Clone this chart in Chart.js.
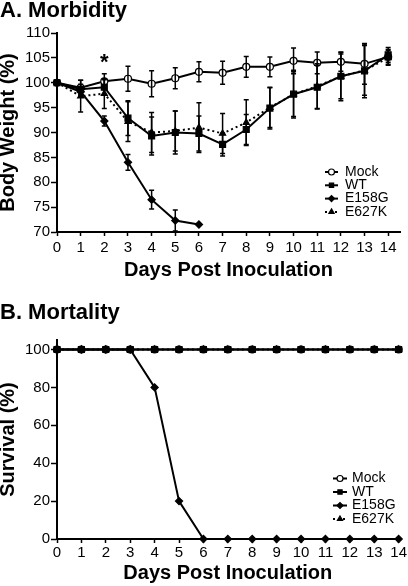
<!DOCTYPE html>
<html>
<head>
<meta charset="utf-8">
<script src="https://cdn.jsdelivr.net/npm/chart.js@4/dist/chart.umd.min.js"></script>
<style>
  body { margin: 0; background: #fff; }
  canvas { display: block; }
</style>
</head>
<body>
<canvas id="morbidity" width="408" height="290"></canvas>
<canvas id="mortality" width="408" height="296"></canvas>
<script>
// ---------------- data ----------------
const days = [0, 1, 2, 3, 4, 5, 6, 7, 8, 9, 10, 11, 12, 13, 14];
const groups = ['Mock', 'WT', 'E158G', 'E627K'];

// body weight (% of day 0), mean and error
const mockWeight  = [100, 99.0, 100.3, 100.8, 99.8, 100.9, 102.2, 102.0, 103.2, 103.2, 104.4, 104.0, 104.2, 103.8, 105.2];
const mockErr     = [0, 1.5, 1.5, 2.5, 2.6, 2.1, 2.0, 2.3, 2.1, 2.0, 2.6, 2.2, 1.9, 4.1, 1.5];
const wtWeight    = [100, 98.7, 99.1, 92.9, 89.3, 90.0, 89.8, 87.6, 90.6, 94.9, 97.7, 99.1, 101.3, 102.4, 105.6];
const wtErr       = [0, 1.0, 1.5, 3.5, 3.8, 4.3, 3.5, 2.3, 3.0, 4.2, 4.8, 4.4, 4.9, 5.4, 1.5];
const e158gWeight = [100, 98.2, 92.3, 84.0, 76.5, 72.3, 71.5];
const e158gErr    = [0, 1.0, 1.0, 1.6, 1.9, 2.1, 0];
const e627kWeight = [100, 97.3, 97.8, 92.2, 90.0, 90.3, 91.0, 89.8, 92.0, 95.0, 97.7, 99.3, 101.3, 102.5, 105.0];
const e627kErr    = [0, 3.2, 3.0, 4.0, 4.0, 4.0, 5.0, 4.0, 4.6, 4.0, 4.5, 4.5, 4.5, 5.0, 1.5];

// survival (%)
const mockSurvival  = [100, 100, 100, 100, 100, 100, 100, 100, 100, 100, 100, 100, 100, 100, 100];
const wtSurvival    = [100, 100, 100, 100, 100, 100, 100, 100, 100, 100, 100, 100, 100, 100, 100];
const e158gSurvival = [100, 100, 100, 100, 80, 20, 0, 0, 0, 0, 0, 0, 0, 0, 0];
const e627kSurvival = [100, 100, 100, 100, 100, 100, 100, 100, 100, 100, 100, 100, 100, 100, 100];

// significance mark on the weight panel
const starDay = 2;
const starLevel = 102.8;

const weightTicks = [70, 75, 80, 85, 90, 95, 100, 105, 110];
const survivalTicks = [0, 20, 40, 60, 80, 100];

const FONT = '"Liberation Sans", Arial, sans-serif';

function pts(vals) {
  return vals.map((v, i) => ({ x: days[i], y: v }));
}

function series(label, vals, style, fill, order, extra) {
  return Object.assign({
    label: label,
    data: pts(vals),
    borderColor: '#000',
    borderWidth: 2,
    pointStyle: style,
    pointRadius: style === 'rect' ? 4.2 : (style === 'rectRot' ? 3.6 : 3.5),
    pointBorderWidth: 1.2,
    pointBorderColor: '#000',
    pointBackgroundColor: fill,
    tension: 0,
    clip: false,
    order: order
  }, extra || {});
}

// ---------------- plugins ----------------
const errorBars = {
  id: 'errorBars',
  afterDatasetsDraw(chart) {
    const ctx = chart.ctx, xs = chart.scales.x, ys = chart.scales.y;
    ctx.save();
    ctx.strokeStyle = '#000';
    ctx.lineWidth = 1.5;
    chart.data.datasets.forEach(ds => {
      if (!ds.errors) return;
      ds.data.forEach((p, i) => {
        const e = ds.errors[i];
        if (!e) return;
        const x = xs.getPixelForValue(p.x);
        const y1 = ys.getPixelForValue(p.y + e);
        const y2 = ys.getPixelForValue(p.y - e);
        ctx.beginPath();
        ctx.moveTo(x, y1); ctx.lineTo(x, y2);
        ctx.moveTo(x - 2.5, y1); ctx.lineTo(x + 2.5, y1);
        ctx.moveTo(x - 2.5, y2); ctx.lineTo(x + 2.5, y2);
        ctx.stroke();
      });
    });
    ctx.restore();
  }
};

// legend drawn as line + marker, like the original figure
const keyBox = {
  id: 'keyBox',
  afterDraw(chart, args, opts) {
    const ctx = chart.ctx;
    ctx.save();
    chart.data.datasets.forEach((ds, i) => {
      const y = opts.y + i * opts.gap;
      const mid = opts.x + opts.len / 2;
      ctx.strokeStyle = '#000';
      ctx.lineWidth = 2;
      ctx.setLineDash(ds.borderDash || []);
      ctx.beginPath();
      ctx.moveTo(opts.x, y);
      ctx.lineTo(opts.x + opts.len, y);
      ctx.stroke();
      ctx.setLineDash([]);
      ctx.fillStyle = ds.pointBackgroundColor;
      ctx.lineWidth = 1.2;
      Chart.helpers.drawPoint(ctx, { pointStyle: ds.pointStyle, radius: 3, borderWidth: 1.2, rotation: 0 }, mid, y);
      ctx.fillStyle = '#000';
      ctx.font = '14px ' + FONT;
      ctx.textBaseline = 'middle';
      ctx.textAlign = 'left';
      ctx.fillText(ds.label, opts.textX, y);
    });
    ctx.restore();
  }
};

const starMark = {
  id: 'starMark',
  afterDraw(chart) {
    const ctx = chart.ctx;
    ctx.save();
    ctx.fillStyle = '#000';
    ctx.font = 'bold 22px ' + FONT;
    ctx.textAlign = 'center';
    ctx.textBaseline = 'alphabetic';
    ctx.fillText('*', chart.scales.x.getPixelForValue(starDay), chart.scales.y.getPixelForValue(starLevel));
    ctx.restore();
  }
};

function axisOptions(cfg) {
  return {
    x: {
      type: 'linear',
      min: 0,
      max: cfg.xMax,
      afterBuildTicks: s => { s.ticks = days.map(d => ({ value: d })); },
      afterFit: s => { s.height = cfg.xHeight; },
      border: { color: '#000', width: 2 },
      grid: { drawOnChartArea: false, drawTicks: true, tickLength: 4, color: '#000', tickWidth: 1.5 },
      ticks: { color: '#000', font: { family: FONT, size: 15 }, padding: cfg.xPad, maxRotation: 0, autoSkip: false },
      title: {
        display: true, text: 'Days Post Inoculation', color: '#000',
        font: { family: FONT, size: 20, weight: 'bold', lineHeight: 1 },
        padding: { top: 0, bottom: cfg.xTitlePad }
      }
    },
    y: {
      min: cfg.yMin,
      max: cfg.yMax,
      afterBuildTicks: s => { s.ticks = cfg.yTicks.map(v => ({ value: v })); },
      afterFit: s => { s.width = 57; },
      border: { color: '#000', width: 2 },
      grid: { drawOnChartArea: false, drawTicks: true, tickLength: 6, color: '#000', tickWidth: 1.5 },
      ticks: { color: '#000', font: { family: FONT, size: 15 }, padding: 1 },
      title: {
        display: true, text: cfg.yTitle, color: '#000',
        font: { family: FONT, size: 20, weight: 'bold', lineHeight: 0.8 },
        padding: { top: 0, bottom: 0 }
      }
    }
  };
}

function panelTitle(text, top, bottom) {
  return {
    display: true, text: text, align: 'start', color: '#000',
    font: { family: FONT, size: 22, weight: 'bold', lineHeight: 1 },
    padding: { top: top, bottom: bottom }
  };
}

document.addEventListener('DOMContentLoaded', function () {

  new Chart(document.getElementById('morbidity'), {
    type: 'line',
    data: {
      datasets: [
        series(groups[0], mockWeight, 'circle', '#fff', 4, { errors: mockErr }),
        series(groups[1], wtWeight, 'rect', '#000', 1, { errors: wtErr }),
        series(groups[2], e158gWeight, 'rectRot', '#000', 2, { errors: e158gErr }),
        series(groups[3], e627kWeight, 'triangle', '#000', 3, { errors: e627kErr, borderDash: [2, 3] })
      ]
    },
    options: {
      responsive: false,
      animation: false,
      layout: { padding: { left: 0, right: 8, top: 0, bottom: 0 } },
      scales: axisOptions({
        xMax: 14.5, xHeight: 58, xPad: 3, xTitlePad: 10,
        yMin: 70, yMax: 110, yTicks: weightTicks, yTitle: 'Body Weight (%)'
      }),
      plugins: {
        legend: { display: false },
        tooltip: { enabled: false },
        title: panelTitle('A. Morbidity', 0, 11),
        keyBox: { x: 325, len: 13, textX: 345, y: 172, gap: 13.3 }
      }
    },
    plugins: [errorBars, keyBox, starMark]
  });

  new Chart(document.getElementById('mortality'), {
    type: 'line',
    data: {
      datasets: [
        series(groups[0], mockSurvival, 'circle', '#fff', 4),
        series(groups[1], wtSurvival, 'rect', '#000', 2),
        series(groups[2], e158gSurvival, 'rectRot', '#000', 3),
        series(groups[3], e627kSurvival, 'circle', '#000', 1, { pointStyle: 'triangle', pointRadius: 3.5, borderDash: [2, 3] })
      ]
    },
    options: {
      responsive: false,
      animation: false,
      layout: { padding: { left: 0, right: 8, top: 0, bottom: 0 } },
      scales: axisOptions({
        xMax: 14, xHeight: 47, xPad: 1, xTitlePad: 3,
        yMin: 0, yMax: 105, yTicks: survivalTicks, yTitle: 'Survival (%)'
      }),
      plugins: {
        legend: { display: false },
        tooltip: { enabled: false },
        title: panelTitle('B. Mortality', 12, 16),
        keyBox: { x: 333, len: 14, textX: 352, y: 188.5, gap: 13.5 }
      }
    },
    plugins: [keyBox]
  });

});
</script>
</body>
</html>
